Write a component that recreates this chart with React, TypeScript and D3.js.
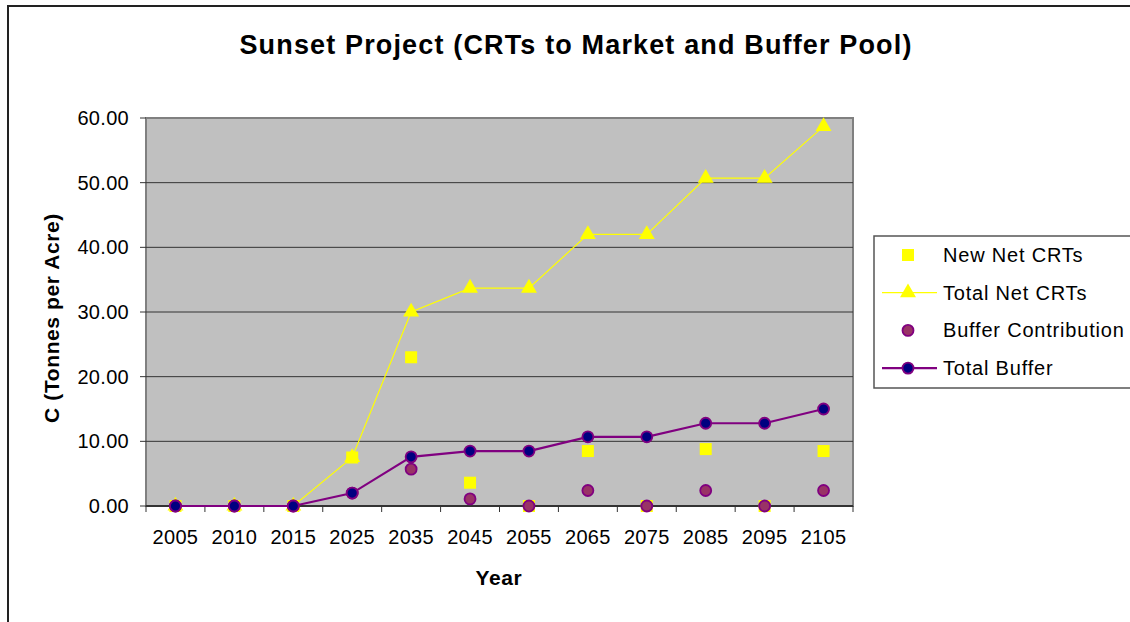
import React from 'react';
import * as d3 from 'd3';

const years = ['2005', '2010', '2015', '2025', '2035', '2045', '2055', '2065', '2075', '2085', '2095', '2105'];
const newNetCRTs = [0, 0, 0, 7.5, 23.0, 3.6, 0, 8.5, 0, 8.8, 0, 8.5];
const totalNetCRTs = [0, 0, 0, 7.5, 30.0, 33.7, 33.7, 42.0, 42.0, 50.7, 50.7, 58.7];
const bufferContribution = [0, 0, 0, 2.0, 5.7, 1.1, 0, 2.4, 0, 2.4, 0, 2.4];
const totalBuffer = [0, 0, 0, 2.0, 7.6, 8.5, 8.5, 10.7, 10.7, 12.8, 12.8, 15.0];
const yTicks = [0, 10, 20, 30, 40, 50, 60];

const W = 1130;
const H = 622;
const plot = { left: 146, top: 118, right: 853, bottom: 506 };
const font = 'Arial, "Liberation Sans", sans-serif';

const App = () => {
    const x = d3.scaleBand<string>()
        .domain(years)
        .range([plot.left, plot.right]);
    const y = d3.scaleLinear()
        .domain([0, 60])
        .range([plot.bottom, plot.top]);
    const cx = (i: number) => (x(years[i]) as number) + x.bandwidth() / 2;

    const line = d3.line<number>()
        .x((d, i) => cx(i))
        .y(d => y(d));

    const tri = d3.symbol().type(d3.symbolTriangle).size(110)();

    const legendItems = [
        { label: 'New  Net CRTs', kind: 'square' },
        { label: 'Total Net CRTs', kind: 'triangle' },
        { label: 'Buffer Contribution', kind: 'bcircle' },
        { label: 'Total Buffer', kind: 'tcircle' },
    ];

    const marker = (kind: string, px: number, py: number, key: string | number) => {
        if (kind === 'square') {
            return <rect key={key} x={px - 6} y={py - 6} width={12} height={12} fill="#FFFF00" />;
        }
        if (kind === 'triangle') {
            return <path key={key} d={tri as string} transform={`translate(${px},${py})`} fill="#FFFF00" />;
        }
        if (kind === 'bcircle') {
            return <circle key={key} cx={px} cy={py} r={5.5} fill="#993366" stroke="#800080" strokeWidth={1.8} />;
        }
        return <circle key={key} cx={px} cy={py} r={5.5} fill="#000080" stroke="#800080" strokeWidth={1.8} />;
    };

    return (
        <svg width={W} height={H} style={{ position: 'absolute', left: 0, top: 0, background: '#fff' }}>
            <rect x={8} y={6} width={W} height={H} fill="#fff" stroke="#222" strokeWidth={2} />
            <text x={576} y={54} textAnchor="middle" fontFamily={font} fontWeight="bold" fontSize={27} letterSpacing={1.15}>
                Sunset Project (CRTs to Market and Buffer Pool)
            </text>

            <rect x={plot.left} y={plot.top} width={plot.right - plot.left} height={plot.bottom - plot.top}
                fill="#C0C0C0" stroke="#808080" strokeWidth={2} />

            {yTicks.map(t => (
                <g key={t}>
                    {t > 0 && t < 60 && (
                        <line x1={plot.left} x2={plot.right} y1={y(t)} y2={y(t)} stroke="#333" strokeWidth={1} />
                    )}
                    <line x1={plot.left - 6} x2={plot.left} y1={y(t)} y2={y(t)} stroke="#333" strokeWidth={1} />
                    <text x={129} y={y(t)} dy="0.35em" textAnchor="end" fontFamily={font} fontSize={20} letterSpacing={0.3}>
                        {t.toFixed(2)}
                    </text>
                </g>
            ))}

            <line x1={plot.left} x2={plot.right} y1={plot.bottom} y2={plot.bottom} stroke="#333" strokeWidth={2} />
            {years.map((yr, i) => (
                <g key={yr}>
                    <line x1={x(yr) as number} x2={x(yr) as number} y1={plot.bottom} y2={plot.bottom + 6} stroke="#333" />
                    <text x={cx(i)} y={544} textAnchor="middle" fontFamily={font} fontSize={20} letterSpacing={0.3}>{yr}</text>
                </g>
            ))}
            <line x1={plot.right} x2={plot.right} y1={plot.bottom} y2={plot.bottom + 6} stroke="#333" />

            <text x={499} y={585} textAnchor="middle" fontFamily={font} fontWeight="bold" fontSize={21} letterSpacing={0.6}>Year</text>
            <text transform="translate(59,318) rotate(-90)" textAnchor="middle" fontFamily={font} fontWeight="bold" fontSize={21} letterSpacing={0.6}>
                C (Tonnes per Acre)
            </text>

            <path d={line(totalNetCRTs) as string} fill="none" stroke="#FFFF00" strokeWidth={1.2} />
            {newNetCRTs.map((v, i) => marker('square', cx(i), y(v), 's' + i))}
            {totalNetCRTs.map((v, i) => marker('triangle', cx(i), y(v), 't' + i))}
            {bufferContribution.map((v, i) => marker('bcircle', cx(i), y(v), 'b' + i))}
            <path d={line(totalBuffer) as string} fill="none" stroke="#800080" strokeWidth={2.2} />
            {totalBuffer.map((v, i) => marker('tcircle', cx(i), y(v), 'tb' + i))}

            <rect x={874} y={236} width={270} height={152} fill="#fff" stroke="#555" strokeWidth={1.5} />
            {legendItems.map((d, i) => {
                const ly = 255 + i * 37.7;
                return (
                    <g key={d.label}>
                        {(d.kind === 'triangle' || d.kind === 'tcircle') && (
                            <line x1={882} x2={937} y1={ly} y2={ly}
                                stroke={d.kind === 'triangle' ? '#FFFF00' : '#800080'}
                                strokeWidth={d.kind === 'triangle' ? 1.2 : 2.2} />
                        )}
                        {marker(d.kind, 908, ly, 'm' + i)}
                        <text x={943} y={ly} dy="0.35em" fontFamily={font} fontSize={20} letterSpacing={0.8}>{d.label}</text>
                    </g>
                );
            })}
        </svg>
    );
};

export default App;
